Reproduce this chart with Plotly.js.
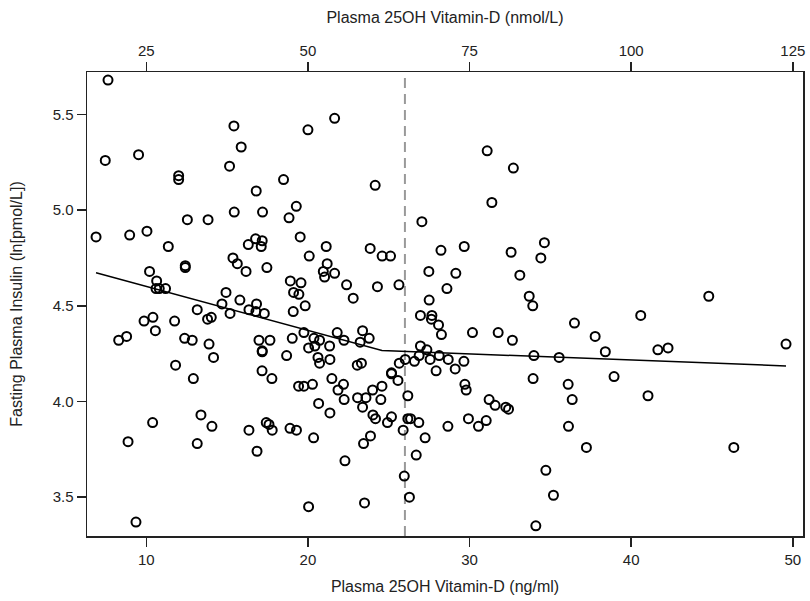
<!DOCTYPE html>
<html>
<head>
<meta charset="utf-8">
<script src="https://cdn.plot.ly/plotly-3.0.1.min.js"></script>
<style>html,body{margin:0;padding:0;background:#fff;}#chart{width:810px;height:601px;}</style>
</head>
<body>
<div id="chart"></div>
<script>
// Plasma 25OH Vitamin-D (ng/ml)
const vitD = [
  7.63, 6.89, 7.46, 9.52, 8.97, 10.04, 11.36, 12.54, 13.82, 15.44,
  17.19, 18.83, 19.28, 16.80, 12.41, 12.41, 10.20, 10.64, 10.60, 10.80,
  11.19, 14.93, 14.68, 15.79, 16.82, 16.35, 16.78, 17.30, 13.15, 14.02,
  13.79, 15.18, 9.86, 10.41, 10.56, 11.75, 8.29, 8.78, 12.37, 12.84,
  13.88, 14.16, 11.81, 15.36, 15.63, 16.17, 17.46, 16.31, 16.76, 17.17,
  17.11, 19.52, 20.08, 21.13, 21.19, 20.95, 21.03, 18.91, 19.57, 19.11,
  19.44, 19.83, 19.09, 16.97, 17.65, 19.03, 19.75, 20.37, 20.72, 20.04,
  20.43, 17.17, 17.17, 18.68, 20.62, 20.72, 17.16, 17.77, 12.91, 15.42,
  15.87, 15.15, 12.00, 12.00, 18.49, 20.00, 21.65, 24.16, 31.09, 32.71,
  31.38, 27.05, 23.85, 24.59, 25.11, 28.23, 29.67, 32.57, 34.63, 34.41,
  21.65, 22.39, 22.80, 24.30, 25.63, 27.48, 29.15, 28.60, 33.11, 27.50,
  33.69, 33.91, 26.96, 27.67, 27.64, 28.08, 28.26, 30.18, 31.77, 32.65,
  33.98, 21.81, 23.38, 23.23, 23.79, 22.23, 21.34, 21.36, 26.96, 27.36,
  26.88, 26.59, 27.56, 28.12, 28.68, 29.65, 26.02, 25.65, 23.31, 23.05,
  25.17, 25.17, 27.93, 29.11, 21.48, 36.49, 37.77, 38.40, 40.59, 44.80,
  41.65, 42.28, 49.58, 35.54, 38.94, 19.42, 19.75, 20.28, 20.66, 13.38,
  10.39, 14.06, 8.87, 13.15, 16.35, 17.42, 17.59, 17.79, 18.89, 19.29,
  20.35, 16.85, 20.04, 9.36, 22.20, 21.86, 22.24, 21.36, 25.57, 24.58,
  24.00, 23.59, 23.07, 24.51, 23.38, 24.02, 24.18, 25.17, 24.92, 26.18,
  26.18, 26.35, 26.86, 25.89, 27.25, 23.87, 23.44, 26.70, 22.29, 25.96,
  23.50, 26.28, 29.71, 29.79, 28.66, 29.93, 30.55, 31.03, 31.21, 31.58,
  32.24, 32.41, 33.93, 34.72, 35.19, 34.10, 36.10, 36.35, 41.04, 36.12,
  37.23, 46.35
];
// Fasting plasma insulin (ln[pmol/L])
const insulin = [
  5.68, 4.86, 5.26, 5.29, 4.87, 4.89, 4.81, 4.95, 4.95, 4.99,
  4.99, 4.96, 5.02, 5.10, 4.70, 4.71, 4.68, 4.63, 4.59, 4.59,
  4.59, 4.57, 4.51, 4.53, 4.51, 4.48, 4.47, 4.46, 4.48, 4.44,
  4.43, 4.46, 4.42, 4.44, 4.37, 4.42, 4.32, 4.34, 4.33, 4.32,
  4.30, 4.23, 4.19, 4.75, 4.72, 4.68, 4.70, 4.82, 4.85, 4.84,
  4.81, 4.86, 4.76, 4.81, 4.72, 4.68, 4.65, 4.63, 4.62, 4.57,
  4.56, 4.50, 4.47, 4.32, 4.32, 4.33, 4.36, 4.33, 4.32, 4.28,
  4.29, 4.26, 4.265, 4.24, 4.23, 4.20, 4.16, 4.12, 4.12, 5.44,
  5.33, 5.23, 5.18, 5.16, 5.16, 5.42, 5.48, 5.13, 5.31, 5.22,
  5.04, 4.94, 4.80, 4.76, 4.76, 4.79, 4.81, 4.78, 4.83, 4.75,
  4.67, 4.61, 4.54, 4.60, 4.61, 4.68, 4.67, 4.59, 4.66, 4.53,
  4.55, 4.50, 4.45, 4.45, 4.43, 4.40, 4.35, 4.36, 4.36, 4.32,
  4.24, 4.36, 4.37, 4.31, 4.33, 4.32, 4.29, 4.22, 4.29, 4.27,
  4.24, 4.21, 4.22, 4.24, 4.22, 4.21, 4.22, 4.20, 4.20, 4.19,
  4.15, 4.145, 4.16, 4.17, 4.12, 4.41, 4.34, 4.26, 4.45, 4.55,
  4.27, 4.28, 4.30, 4.23, 4.13, 4.08, 4.08, 4.09, 3.99, 3.93,
  3.89, 3.87, 3.79, 3.78, 3.85, 3.89, 3.88, 3.85, 3.86, 3.85,
  3.81, 3.74, 3.45, 3.37, 4.09, 4.06, 4.01, 3.94, 4.11, 4.08,
  4.06, 4.02, 4.02, 4.01, 3.97, 3.93, 3.91, 3.92, 3.89, 4.03,
  3.91, 3.91, 3.89, 3.85, 3.81, 3.82, 3.78, 3.72, 3.69, 3.61,
  3.47, 3.50, 4.09, 4.06, 3.87, 3.91, 3.87, 3.90, 4.01, 3.98,
  3.97, 3.96, 4.12, 3.64, 3.51, 3.35, 4.09, 4.01, 4.03, 3.87,
  3.76, 3.76
];
// Fitted curve (piecewise linear)
const fitX = [6.89, 24.58, 49.58];
const fitY = [4.673, 4.266, 4.186];
// Threshold (ng/ml)
const cutoff = 26.0;
// Axis ticks
const xTicks = [10, 20, 30, 40, 50];
const x2Ticks = [25, 50, 75, 100, 125];
const yTicks = [3.5, 4.0, 4.5, 5.0, 5.5];
const ngToNmol = 2.5;

const xRange = [6.33, 50.63];
const yRange = [3.297, 5.722];

const FONT = 'Liberation Sans, Arial, sans-serif';
const AX = '#222';

const traces = [
  {
    x: vitD, y: insulin, type: 'scatter', mode: 'markers',
    marker: {symbol: 'circle-open', size: 9, color: '#000', line: {width: 2, color: '#000'}},
    hoverinfo: 'x+y', showlegend: false
  },
  {
    x: fitX, y: fitY, type: 'scatter', mode: 'lines',
    line: {color: '#000', width: 1.5}, showlegend: false, hoverinfo: 'skip'
  },
  {
    x: [], y: [], xaxis: 'x2', type: 'scatter', mode: 'markers', showlegend: false, hoverinfo: 'skip'
  }
];

const layout = {
  width: 810, height: 601,
  margin: {l: 87, r: 7, t: 72, b: 65, pad: 0},
  paper_bgcolor: '#fff', plot_bgcolor: '#fff',
  font: {family: FONT, size: 15, color: AX},
  showlegend: false,
  xaxis: {
    range: xRange, tickvals: xTicks, ticktext: xTicks.map(String),
    ticks: 'outside', ticklen: 9, tickwidth: 1.5, tickcolor: AX,
    showline: true, linecolor: AX, linewidth: 1.5, mirror: false,
    showgrid: false, zeroline: false,
    tickfont: {family: FONT, size: 15, color: AX},
    title: {text: 'Plasma 25OH Vitamin-D (ng/ml)', font: {family: FONT, size: 16, color: AX}, standoff: 14},
    automargin: false
  },
  xaxis2: {
    overlaying: 'x', side: 'top', anchor: 'y',
    range: [xRange[0] * ngToNmol, xRange[1] * ngToNmol],
    tickvals: x2Ticks, ticktext: x2Ticks.map(String),
    ticks: 'outside', ticklen: 9, tickwidth: 1.5, tickcolor: AX,
    showline: true, linecolor: AX, linewidth: 1.5,
    showgrid: false, zeroline: false,
    tickfont: {family: FONT, size: 15, color: AX},
    title: {text: 'Plasma 25OH Vitamin-D (nmol/L)', font: {family: FONT, size: 16, color: AX}, standoff: 14},
    automargin: false
  },
  yaxis: {
    range: yRange, tickvals: yTicks, ticktext: yTicks.map(v => v.toFixed(1)),
    ticks: 'outside', ticklen: 9, tickwidth: 1.5, tickcolor: AX,
    showline: true, linecolor: AX, linewidth: 1.5, mirror: true,
    showgrid: false, zeroline: false,
    tickfont: {family: FONT, size: 15, color: AX},
    title: {text: 'Fasting Plasma Insulin (ln[pmol/L])', font: {family: FONT, size: 16, color: AX}, standoff: 26},
    automargin: false
  },
  shapes: [{
    type: 'line', xref: 'x', yref: 'paper', x0: cutoff, x1: cutoff, y0: 0, y1: 1,
    line: {color: '#999', width: 2, dash: '10px,6px'}, layer: 'below'
  }]
};

Plotly.newPlot('chart', traces, layout, {displayModeBar: false, staticPlot: true});
</script>
</body>
</html>
